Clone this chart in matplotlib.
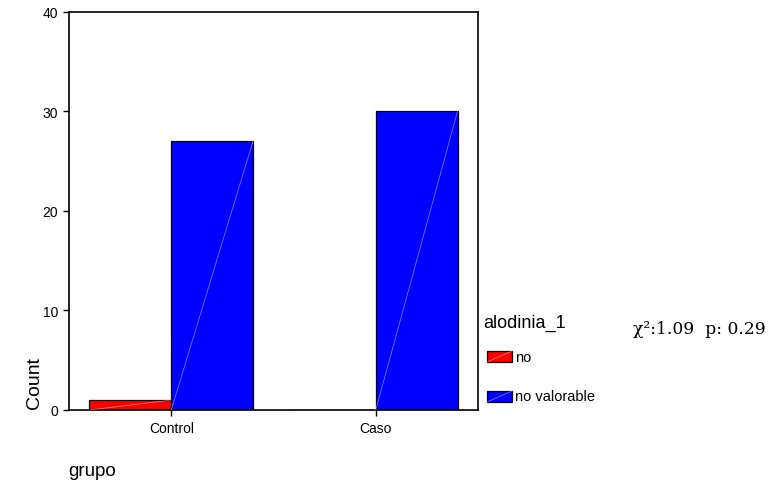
import matplotlib
matplotlib.use("Agg")
import matplotlib.pyplot as plt
from matplotlib.patches import Rectangle
import numpy as np

# Data
categories = ["Control", "Caso"]
series_names = ["no", "no valorable"]
counts_no = [1, 0]
counts_no_valorable = [27, 30]
series_colors = ["#ff0000", "#0000ff"]
y_ticks = [0, 10, 20, 30, 40]
stat_text = "χ²:1.09  p: 0.29"

W, H = 771, 489
fig = plt.figure(figsize=(W / 100, H / 100), dpi=100)
plt.rcParams["font.family"] = ["Liberation Sans", "DejaVu Sans"]


def fx(px):
    return px / W


def fy(py):
    return 1 - py / H


ax = fig.add_axes([fx(69), fy(411), fx(478) - fx(69), fy(12.7) - fy(411)])

x = np.arange(len(categories))
width = 0.4
series = [counts_no, counts_no_valorable]
offsets = [-width / 2, width / 2]
for vals, off, col in zip(series, offsets, series_colors):
    ax.bar(x + off, vals, width=width, color=col, edgecolor="black",
           linewidth=0.9, zorder=2)
    # faint diagonal highlight across each bar
    for xi, v in zip(x + off, vals):
        ax.plot([xi - width / 2, xi + width / 2], [0, v], color="white",
                alpha=0.45, linewidth=0.6, zorder=3)

ax.set_xlim(-0.5, 1.5)
ax.set_ylim(0, 40)
ax.set_yticks(y_ticks)
ax.set_xticks(x)
ax.set_xticklabels(categories)
ax.tick_params(axis="both", direction="out", length=4, width=1,
               labelsize=10, colors="black", pad=4)
for s in ax.spines.values():
    s.set_linewidth(1.2)
    s.set_color("black")

# axis titles
fig.text(fx(35), fy(383), "Count", rotation=90, ha="center", va="center",
         fontsize=14)
fig.text(fx(68), fy(472), "grupo", ha="left", va="center", fontsize=13.5)

# legend
fig.text(fx(483), fy(328), "alodinia_1", ha="left", va="baseline", fontsize=13)
legend_rows = [357.5, 397.5]
for name, col, yc in zip(series_names, series_colors, legend_rows):
    x0, x1 = 487, 512
    y0, y1 = yc + 5.5, yc - 5.5
    fig.add_artist(Rectangle((fx(x0), fy(y0)), fx(x1) - fx(x0), fy(y1) - fy(y0),
                             transform=fig.transFigure, facecolor=col,
                             edgecolor="black", linewidth=0.9))
    fig.add_artist(plt.Line2D([fx(x0), fx(x1)], [fy(y0), fy(y1)],
                              transform=fig.transFigure, color="white",
                              alpha=0.45, linewidth=0.6))
    fig.text(fx(515), fy(yc), name, ha="left", va="center", fontsize=10.5)

fig.text(fx(633), fy(330), stat_text, ha="left", va="center", fontsize=12.3,
         family=["DejaVu Serif"])

fig.savefig("out.png", dpi=100, facecolor="white")
